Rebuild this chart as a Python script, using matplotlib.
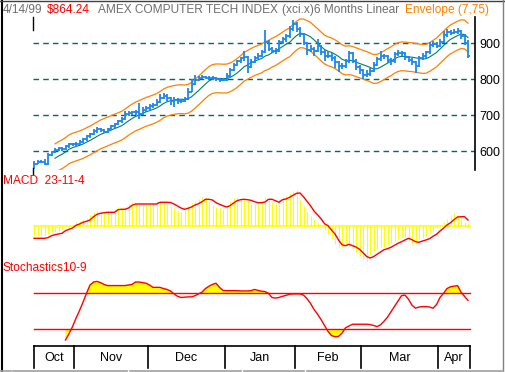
import numpy as np
import matplotlib
matplotlib.use("Agg")
import matplotlib.pyplot as plt
from matplotlib.lines import Line2D

plt.rcParams['font.family'] = ['Liberation Sans', 'DejaVu Sans']

# ---------------- data ----------------
months = ["Oct", "Nov", "Dec", "Jan", "Feb", "Mar", "Apr"]
month_bars = [12, 21, 22, 20, 19, 22, 9]

opens = [566, 566, 571, 571, 565, 590, 598, 604, 608, 606, 615, 619, 620, 621, 627, 634,
         642, 648, 657, 661, 659, 655, 663, 670, 677, 683, 690, 703, 706, 708, 710, 705,
         715, 720, 726, 730, 737, 748, 754, 749, 739, 742, 741, 740, 744, 766, 788, 798,
         803, 807, 804, 803, 803, 800, 798, 799, 808, 826, 840, 850, 858, 862, 835, 848,
         860, 866, 875, 905, 885, 878, 880, 903, 911, 920, 940, 955, 940, 925, 900, 882,
         885, 880, 893, 876, 864, 866, 860, 849, 837, 838, 850, 872, 852, 835, 825, 812,
         814, 823, 840, 856, 865, 864, 853, 850, 870, 874, 872, 861, 855, 848, 838, 858,
         864, 875, 895, 899, 893, 905, 924, 931, 930, 932, 935, 920, 900]
highs = [574, 576, 575, 578, 595, 602, 610, 612, 613, 618, 623, 624, 626, 631, 638, 645,
         652, 662, 668, 664, 662, 666, 673, 680, 687, 694, 712, 712, 713, 716, 735, 722,
         727, 732, 735, 744, 760, 762, 758, 752, 750, 748, 746, 750, 775, 800, 812, 810,
         812, 810, 808, 808, 806, 804, 805, 818, 832, 845, 855, 862, 878, 866, 856, 866,
         872, 882, 937, 908, 890, 888, 910, 918, 925, 948, 965, 958, 945, 930, 905, 895,
         890, 912, 896, 882, 878, 874, 866, 852, 846, 856, 880, 875, 856, 840, 830, 826,
         832, 848, 862, 880, 870, 868, 858, 876, 882, 880, 875, 866, 860, 852, 866, 872,
         880, 905, 906, 903, 912, 935, 940, 938, 940, 942, 938, 925, 908]
lows = [550, 566, 568, 562, 563, 588, 594, 600, 601, 604, 610, 614, 612, 618, 624, 630,
        638, 645, 652, 654, 651, 652, 659, 666, 673, 680, 688, 698, 700, 700, 690, 702,
        708, 712, 720, 726, 733, 745, 740, 730, 722, 732, 735, 736, 742, 764, 785, 795,
        800, 800, 798, 797, 795, 793, 794, 795, 805, 822, 836, 845, 852, 818, 832, 845,
        856, 862, 872, 878, 872, 870, 876, 898, 905, 915, 935, 932, 918, 895, 868, 875,
        865, 876, 868, 850, 858, 850, 832, 820, 828, 832, 846, 846, 826, 815, 800, 806,
        810, 820, 836, 852, 856, 846, 840, 846, 866, 866, 855, 848, 840, 818, 834, 855,
        860, 870, 890, 886, 890, 900, 918, 922, 925, 926, 912, 895, 860]
closes = [566, 571, 571, 565, 590, 598, 604, 608, 606, 615, 619, 620, 621, 627, 634, 642,
          648, 657, 661, 659, 655, 663, 670, 677, 683, 690, 703, 706, 708, 710, 705, 715,
          720, 726, 730, 737, 748, 754, 749, 739, 742, 741, 740, 744, 766, 788, 798, 803,
          807, 804, 803, 803, 800, 798, 799, 808, 826, 840, 850, 858, 862, 835, 848, 860,
          866, 875, 905, 885, 878, 880, 903, 911, 920, 940, 955, 940, 925, 900, 882, 885,
          880, 893, 876, 864, 866, 860, 849, 837, 838, 850, 872, 852, 835, 825, 812, 814,
          823, 840, 856, 865, 864, 853, 850, 870, 874, 872, 861, 855, 848, 838, 858, 864,
          875, 895, 899, 893, 905, 924, 931, 930, 932, 935, 920, 900, 864]

macd_hist = [-10, -10, -9, -9, -8, -6, -6, -5, -3, -1, 0, 2, 4, 5, 6, 8, 11, 14, 15, 15,
             14, 14, 15, 17, 19, 18, 19, 22, 24, 23, 22, 22, 22, 22, 23, 25, 25, 24, 23, 20,
             18, 15, 14, 16, 20, 23, 25, 27, 29, 29, 25, 21, 19, 18, 17, 20, 25, 28, 29, 28,
             27, 25, 23, 22, 22, 25, 29, 28, 24, 22, 27, 29, 30, 33, 35, 36, 26, 20, 14, 10,
             6, 3, 0, -4, -8, -12, -18, -22, -21, -18, -20, -23, -26, -30, -33, -35, -29, -25,
             -23, -21, -21, -19, -17, -15, -13, -11, -11, -15, -18, -17, -13, -12, -10, -7, -5,
             -1, 1, 4, 7, 10, 13, 11, 9, 4, 3]
macd_signal = [-12.3, -12.3, -12.3, -12.3, -11.7, -9.7, -8.7, -8, -7.3, -4.7, -3.3, -2, 0.7,
               2, 3.7, 4.7, 6, 9.3, 11.7, 12.7, 13.3, 13.7, 13.7, 13.7, 16.3, 16.7, 16.7, 18,
               20.7, 22, 22, 22, 22, 22, 22, 22, 23.7, 23.7, 23.7, 23.5, 22, 20, 18, 16.7,
               17.7, 19, 21, 22.3, 24.3, 26.7, 26.7, 26, 23.3, 21.7, 20.3, 19, 20.3, 23, 25.3,
               26.3, 26.7, 26.3, 25.7, 24.3, 23.3, 23.3, 24, 26.7, 26.7, 25.3, 23.7, 26.3, 27,
               28.7, 30.7, 32.7, 33, 29.3, 24.7, 20.3, 15, 11.3, 7.3, 2.3, 0.3, -4, -8, -14,
               -18.7, -19.7, -18.3, -19.7, -21, -23.3, -26.7, -30.3, -32, -30.7, -28.3, -26,
               -23.7, -22.7, -21.3, -19.3, -17.3, -15.7, -14, -12.3, -13.7, -15.7, -16.3, -15,
               -14, -12.7, -10.3, -8.3, -5, -2.3, 1, 3.3, 6.3, 9, 9.3, 9.3, 6]

stoch_start = 9
stoch_k = [1.5, 12, 24, 38, 51, 65, 80, 94, 99, 100, 98, 95, 93, 93, 93, 93, 93, 93, 94, 95,
           99, 99, 98, 97, 94, 90, 90, 90, 88, 86.5, 84, 79, 75, 73, 73.5, 74, 74, 76, 79, 82,
           88, 92, 95, 97, 90, 85, 84.5, 84.5, 84.5, 84.5, 84, 84, 84, 84.5, 86.5, 85, 83.5,
           83, 80, 73, 72, 73, 75, 76.5, 78.5, 79, 79, 79, 77, 71, 63, 53, 45, 36, 26, 16, 9,
           7, 7.5, 13, 22, 25, 28, 28, 28, 28, 28, 27.5, 26, 24, 27, 33, 40, 49, 58, 67, 76,
           77, 70, 60, 55, 57, 57.6, 57.6, 57, 55, 61, 73, 80, 88, 91, 92, 93, 82, 75, 68]

price_ticks = [600, 700, 800, 900]

# ---------------- figure ----------------
W, H = 506, 372
fig = plt.figure(figsize=(W / 100, H / 100), dpi=100)
fig.patch.set_facecolor("white")


def fax(x0, y0, x1, y1):
    """axes from pixel box (top-left origin)"""
    return fig.add_axes([x0 / W, 1 - y1 / H, (x1 - x0) / W, (y1 - y0) / H])


n = len(closes)
idx = np.arange(n)
XL = (-0.286, 126.0)
XEND = 124.57
FS = 8.6

BLUE = "#1a88f0"
ORANGE = "#ff8000"
TEAL = "#008060"
GRID = "#006a6a"
YELLOW = "#ffff00"
RED = "#ff0000"
GRAY = "#6e6e6e"

# ----- price panel -----
ax = fax(33, 17, 475, 170)
ax.set_xlim(*XL)
ax.set_ylim(548.1, 973.1)
for t in price_ticks:
    ax.axhline(t, color=GRID, lw=1.0, ls=(0, (4, 3)), zorder=1)
ax.vlines(idx, lows, highs, color=BLUE, lw=1.3, zorder=3)
ax.hlines(opens, idx - 0.5, idx, color=BLUE, lw=1.3, zorder=3)
ax.hlines(closes, idx, idx + 0.5, color=BLUE, lw=1.3, zorder=3)

c = np.array(closes, dtype=float)
ma = np.convolve(c, np.ones(7) / 7, mode="valid")
mx = idx[6:]
env = 40
ax.plot(mx, ma, color=TEAL, lw=0.8, zorder=2)
ax.plot(mx, ma + env, color=ORANGE, lw=0.9, zorder=2)
ax.plot(mx, ma - env, color=ORANGE, lw=0.9, zorder=2)

for s in ["left", "top", "bottom"]:
    ax.spines[s].set_visible(False)
ax.spines["right"].set_color("black")
ax.spines["right"].set_linewidth(1.2)
ax.yaxis.tick_right()
ax.set_yticks(price_ticks)
ax.set_yticklabels([str(t) for t in price_ticks], fontsize=FS + 0.4)
ax.tick_params(axis="y", length=0, pad=3)
ax.set_xticks([])
ax.patch.set_alpha(0)

# ----- MACD panel -----
am = fax(33, 185, 475, 265)
am.set_xlim(*XL)
am.set_ylim(-39, 41)
am.vlines(idx, 0, macd_hist, color=YELLOW, lw=0.8, zorder=2)
am.plot([XL[0] + 0.3, XEND], [0, 0], color=YELLOW, lw=1.2, zorder=2)
am.plot(idx, macd_signal, color=RED, lw=1.0, zorder=3)
am.axis("off")

# ----- Stochastics panel -----
ast = fax(33, 275, 475, 345)
ast.set_xlim(*XL)
ast.set_ylim(-6.9, 110.8)
sx = np.arange(stoch_start, stoch_start + len(stoch_k))
sk = np.array(stoch_k, dtype=float)
ast.fill_between(sx, sk, 80, where=sk > 80, interpolate=True, color=YELLOW, lw=0, zorder=1)
ast.fill_between(sx, sk, 20, where=sk < 20, interpolate=True, color=YELLOW, lw=0, zorder=1)
ast.plot([XL[0] + 0.3, XEND], [80, 80], color=RED, lw=1.0, zorder=2)
ast.plot([XL[0] + 0.3, XEND], [20, 20], color=RED, lw=1.0, zorder=2)
ast.plot(sx, sk, color=RED, lw=1.0, zorder=3)
ast.axis("off")

# ----- month box -----
amo = fax(33, 346, 475, 368)
amo.set_xlim(*XL)
amo.set_ylim(0, 1)
amo.axis("off")
x0 = XL[0] + 0.3
bounds = [x0]
cum = 0
for k in month_bars[:-1]:
    cum += k
    bounds.append(cum - 0.5)
bounds.append(XEND)
amo.plot([bounds[0], bounds[-1]], [1, 1], color="black", lw=1.2, clip_on=False)
for b in bounds:
    amo.plot([b, b], [0, 1], color="black", lw=1.2, clip_on=False)
for m, a, b in zip(months, bounds[:-1], bounds[1:]):
    amo.text((a + b) / 2, 0.45, m, ha="center", va="center", fontsize=FS + 0.4, color="black")

# ----- titles -----
ty = 1 - 10 / H
fig.text(3 / W, ty, "4/14/99", color=GRAY, fontsize=FS, va="center")
fig.text(47 / W, ty, "$864.24", color=RED, fontsize=FS, va="center")
fig.text(98 / W, ty, "AMEX COMPUTER TECH INDEX", color=GRAY, fontsize=FS, va="center")
fig.text(282 / W, ty, "(xci.x)6 Months Linear", color=GRAY, fontsize=FS, va="center")
fig.text(405 / W, ty, "Envelope (7,75)", color=ORANGE, fontsize=FS, va="center")
fig.text(3 / W, 1 - 181 / H, "MACD  23-11-4", color=RED, fontsize=FS, va="center")
fig.text(3 / W, 1 - 268 / H, "Stochastics10-9", color=RED, fontsize=FS, va="center")

# ----- frame -----
def fline(xs, ys, **kw):
    fig.add_artist(Line2D([x / W for x in xs], [1 - y / H for y in ys], transform=fig.transFigure, **kw))

fline([2.5, 2.5], [0, 372], color="black", lw=1.5)
fline([0, 506], [0.5, 0.5], color="#404040", lw=1.0)
fline([503.5, 503.5], [0, 372], color="#808080", lw=1.0)
for a, b in [(0, 11), (13, 127), (130, 241), (244, 304), (307, 503)]:
    fline([a, b], [370.5, 370.5], color="#a0a0a0", lw=1.2)
# small separators at the price panel edges
fline([33, 33], [17, 30], color="black", lw=1.0)
fline([33, 33], [168, 174], color="black", lw=1.0)

fig.savefig("out.png", dpi=100)
